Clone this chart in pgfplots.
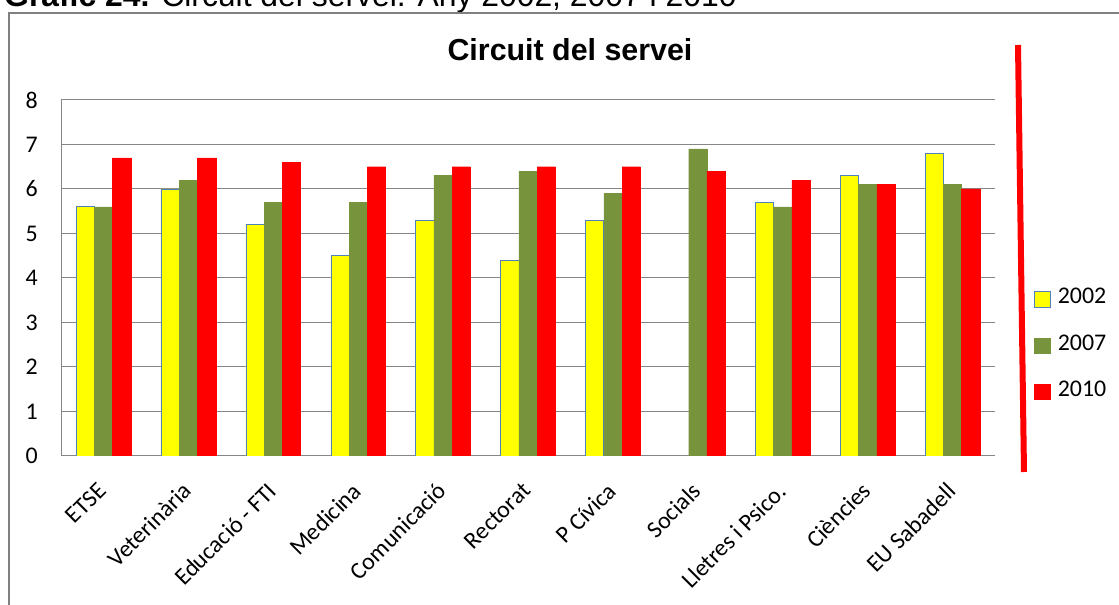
\documentclass[border=0pt]{standalone}
\usepackage{pgfplots}
\pgfplotsset{compat=1.18}
\usepackage{fontspec}
\setmainfont{Liberation Sans}
\newfontfamily\calibri{Carlito}
\definecolor{cyel}{HTML}{FFFF00}
\definecolor{cgrn}{HTML}{77933C}
\definecolor{cred}{HTML}{FF0000}
\definecolor{cblue}{HTML}{4F81BD}
\definecolor{cgrid}{HTML}{868686}
\definecolor{cframe}{HTML}{808080}
\begin{document}
\begin{tikzpicture}[x=1bp,y=1bp]
\begin{scope}
\clip (0,0) rectangle (1119,605);
\node[anchor=base west, inner sep=0pt, font=\fontsize{32}{36}\selectfont] at (4,598.5) {\textbf{Gràfic 24.} Circuit del servei. Any 2002, 2007 i 2010};
\draw[cframe, line width=2.7bp] (9,-5) -- (9,592) -- (1130,592);
\end{scope}
\node[anchor=base, inner sep=0pt, font=\bfseries\fontsize{30.5}{36}\selectfont] at (570,544) {Circuit del servei};
\begin{axis}[
  at={(61bp,149bp)}, anchor=south west, scale only axis,
  width=934bp, height=356bp,
  ymin=0, ymax=8, ytick={0,1,...,8},
  xmin=-0.5, xmax=10.5, xtick={0,...,10},
  xticklabels={ETSE, Veterinària, Educació - FTI, Medicina, Comunicació, Rectorat, P Cívica, Socials, Lletres i Psico., Ciències, EU Sabadell},
  ybar=0pt, bar width=0.215,
  axis x line*=bottom, axis y line*=left,
  axis line style={cgrid, line width=1bp},
  ymajorgrids, grid style={cgrid, line width=1bp},
  major tick length=0pt,
  /pgf/number format/assume math mode=true,
  yticklabel={\pgfmathprintnumber[assume math mode=true]{\tick}},
  yticklabel style={font=\calibri\fontsize{24}{28}\selectfont, anchor=east, inner sep=0pt, xshift=-23bp},
  xticklabel style={font=\calibri\fontsize{24}{28}\selectfont, inner sep=0pt, xshift=-7bp, yshift=-25bp, rotate=45, anchor=north east},
  legend style={at={(axis description cs:1.0418,0.3144)}, anchor=west, draw=none, fill=none,
    font=\calibri\fontsize{24}{28}\selectfont, row sep=27.5bp, inner sep=0pt,
    nodes={inner sep=0pt}, /tikz/every odd column/.style={column sep=7bp}},
  legend cell align=left,
  legend image code/.code={\draw[#1] (0bp,-10bp) rectangle (16bp,5.5bp);},
]
\addplot[fill=cyel, draw=cblue, line width=0.6bp] coordinates {(0,5.6) (1,6.0) (2,5.2) (3,4.5) (4,5.3) (5,4.4) (6,5.3) (8,5.7) (9,6.3) (10,6.8)};
\addplot[fill=cgrn, draw=cgrn, line width=0.4bp] coordinates {(0,5.6) (1,6.2) (2,5.7) (3,5.7) (4,6.3) (5,6.4) (6,5.9) (7,6.9) (8,5.6) (9,6.1) (10,6.1)};
\addplot[fill=cred, draw=cred, line width=0.4bp] coordinates {(0,6.7) (1,6.7) (2,6.6) (3,6.5) (4,6.5) (5,6.5) (6,6.5) (7,6.4) (8,6.2) (9,6.1) (10,6.0)};
\legend{2002,2007,2010}
\end{axis}
\draw[cred, line width=6bp] (1018,560) -- (1024,133);
\pgfresetboundingbox
\useasboundingbox (0,0) rectangle (1119,605);
\end{tikzpicture}
\end{document}
